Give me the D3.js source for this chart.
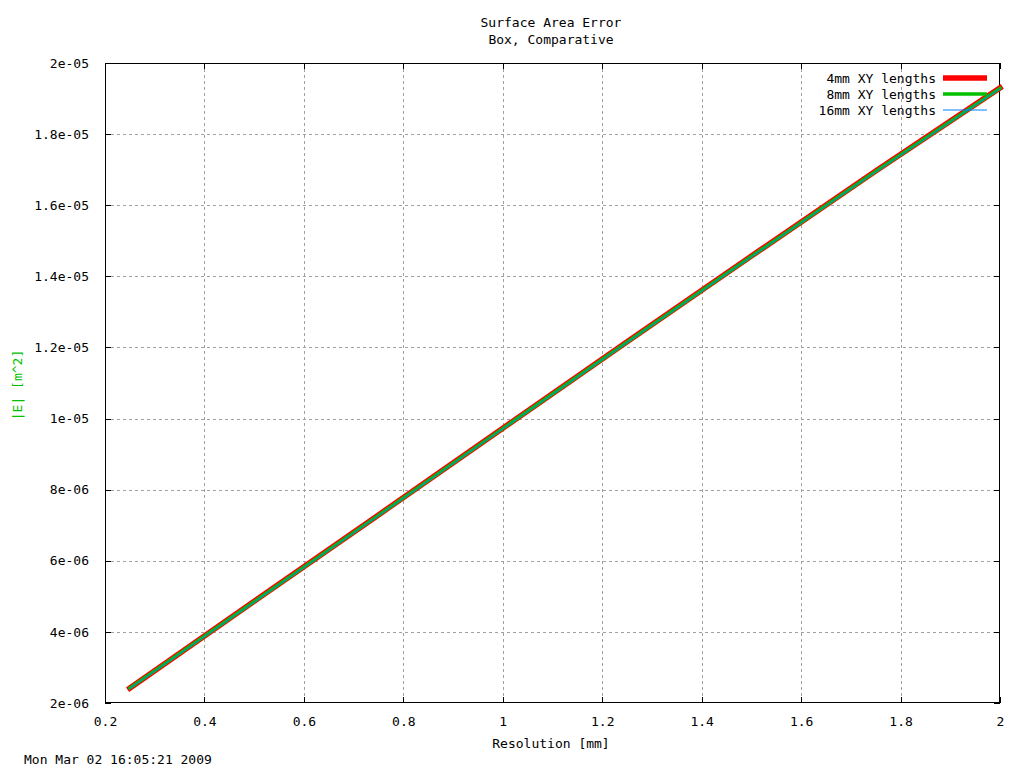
<!DOCTYPE html>
<html>
<head>
<meta charset="utf-8">
<script src="https://cdn.jsdelivr.net/npm/d3@7"></script>
<style>
  body { margin: 0; background: #fff; }
  text { font-family: "DejaVu Sans Mono", "Liberation Mono", monospace; font-size: 13px; fill: #000; }
</style>
</head>
<body>
<svg id="chart" width="1024" height="768"></svg>
<script>
// Data
const resolution = [0.25, 0.5, 0.75, 1.0, 1.25, 1.5, 1.75, 2.0];
const err4mm  = [2.42e-6, 4.86e-6, 7.29e-6, 9.73e-6, 12.16e-6, 14.57e-6, 16.96e-6, 19.30e-6];
const err8mm  = [2.42e-6, 4.85e-6, 7.28e-6, 9.72e-6, 12.15e-6, 14.56e-6, 16.95e-6, 19.29e-6];
const err16mm = [2.41e-6, 4.84e-6, 7.27e-6, 9.71e-6, 12.14e-6, 14.55e-6, 16.94e-6, 19.28e-6];
const xTicks = [0.2, 0.4, 0.6, 0.8, 1, 1.2, 1.4, 1.6, 1.8, 2];
const yTicks = [2e-6, 4e-6, 6e-6, 8e-6, 1e-5, 1.2e-5, 1.4e-5, 1.6e-5, 1.8e-5, 2e-5];
const yTickLabels = ["2e-06","4e-06","6e-06","8e-06","1e-05","1.2e-05","1.4e-05","1.6e-05","1.8e-05","2e-05"];
const seriesNames = ["4mm XY lengths", "8mm XY lengths", "16mm XY lengths"];
const titleLines = ["Surface Area Error", "Box, Comparative"];

const series = [
  { name: seriesNames[0], values: err4mm,  color: "#ff0000", width: 5.5 },
  { name: seriesNames[1], values: err8mm,  color: "#00c000", width: 3.3 },
  { name: seriesNames[2], values: err16mm, color: "#0080ff", width: 1 }
];

const svg = d3.select("#chart");
const L = 105, R = 1000, T = 63, B = 703;
const x = d3.scaleLinear().domain([0.2, 2]).range([L, R]);
const y = d3.scaleLinear().domain([2e-6, 2e-5]).range([B, T]);

// Grid
const grid = svg.append("g").attr("shape-rendering", "crispEdges")
  .attr("stroke", "#a0a0a0").attr("stroke-dasharray", "3,3").attr("stroke-width", 1);
xTicks.slice(1, -1).forEach(t => {
  grid.append("line").attr("x1", Math.round(x(t)) + 0.5).attr("x2", Math.round(x(t)) + 0.5)
    .attr("y1", T).attr("y2", B);
});
yTicks.slice(1, -1).forEach(t => {
  grid.append("line").attr("y1", Math.round(y(t)) + 0.5).attr("y2", Math.round(y(t)) + 0.5)
    .attr("x1", L).attr("x2", R);
});

// Axes with inward ticks (mirrored)
const fmtY = d => yTickLabels[yTicks.indexOf(d)];
const axB = svg.append("g").attr("transform", `translate(0,${B})`)
  .call(d3.axisBottom(x).tickValues(xTicks).tickSize(-6).tickPadding(14).tickFormat(d3.format("")));
const axT = svg.append("g").attr("transform", `translate(0,${T})`)
  .call(d3.axisTop(x).tickValues(xTicks).tickSize(-6).tickFormat(""));
const axL = svg.append("g").attr("transform", `translate(${L},0)`)
  .call(d3.axisLeft(y).tickValues(yTicks).tickSize(-6).tickPadding(16).tickFormat(fmtY));
const axR = svg.append("g").attr("transform", `translate(${R},0)`)
  .call(d3.axisRight(y).tickValues(yTicks).tickSize(-6).tickFormat(""));
[axB, axT, axL, axR].forEach(a => {
  a.attr("shape-rendering", "crispEdges");
  a.select(".domain").remove();
  a.selectAll(".tick line").attr("stroke", "#000");
  a.selectAll("text").attr("font-family", "DejaVu Sans Mono").attr("font-size", 13).attr("fill", "#000");
});
// Border box
svg.append("rect").attr("x", L + 0.5).attr("y", T + 0.5).attr("width", R - L - 1).attr("height", B - T - 1)
  .attr("fill", "none").attr("stroke", "#000").attr("shape-rendering", "crispEdges");

// Lines
const line = d3.line().x((d, i) => x(resolution[i])).y(d => y(d));
series.forEach(s => {
  svg.append("path").datum(s.values).attr("d", line)
    .attr("fill", "none").attr("stroke", s.color).attr("stroke-width", s.width)
    .attr("stroke-linejoin", "miter").attr("stroke-linecap", "square");
});

// Legend
series.forEach((s, i) => {
  const yy = 78 + i * 16;
  svg.append("text").attr("x", 936).attr("y", yy).attr("dy", "0.35em")
    .attr("text-anchor", "end").text(s.name);
  svg.append("line").attr("x1", 943).attr("x2", 987).attr("y1", yy).attr("y2", yy)
    .attr("stroke", s.color).attr("stroke-width", s.width);
});

// Titles and labels
titleLines.forEach((t, i) => {
  svg.append("text").attr("x", 551).attr("y", 22 + i * 17).attr("dy", "0.35em")
    .attr("text-anchor", "middle").text(t);
});
svg.append("text").attr("x", 551).attr("y", 743).attr("dy", "0.35em")
  .attr("text-anchor", "middle").text("Resolution [mm]");
svg.append("text").attr("transform", "translate(17,385) rotate(-90)").attr("dy", "0.35em")
  .attr("text-anchor", "middle").style("fill", "#00c000").text("|E| [m^2]");
svg.append("text").attr("x", 24).attr("y", 759).attr("dy", "0.35em")
  .text("Mon Mar 02 16:05:21 2009");
</script>
</body>
</html>
